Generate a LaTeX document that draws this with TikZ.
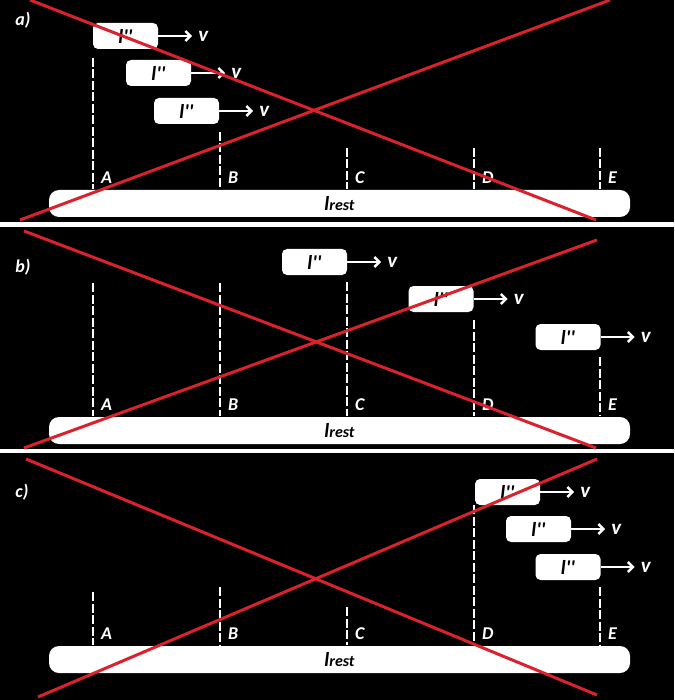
\documentclass[tikz,border=0pt]{standalone}
\usepackage{fontspec}
\setmainfont{Carlito}[Ligatures=TeXOff]
\usepackage{tikz}
\usetikzlibrary{arrows.meta, positioning}
\definecolor{strike}{RGB}{218,34,44}

\begin{document}
\begin{tikzpicture}[x=1pt,y=-1pt,>={Straight Barb[length=5pt,width=10pt]}]
	\tikzset{every node/.style={inner sep=0pt},
		frame/.style={fill=white, rounded corners=5pt, minimum width=65pt, minimum height=26pt, text=black, font=\fontsize{20}{20}\selectfont\bfseries\itshape},
		speed/.style={text=white, font=\fontsize{21}{21}\selectfont\bfseries\itshape},
		point/.style={text=white, anchor=west, font=\fontsize{18}{18}\selectfont\bfseries\itshape},
		part/.style={text=white, font=\fontsize{18}{18}\selectfont\bfseries\itshape},
		bar/.style={fill=white, rounded corners=10pt, minimum width=581pt, minimum height=27pt, text=black, font=\bfseries\itshape},
		guide/.style={white, line width=1.2pt, dash pattern=on 9pt off 2.5pt},
		vec/.style={->, white, line width=2.5pt, shorten >=6pt},
		cross/.style={strike, line width=3pt}}
	\useasboundingbox (0,0) rectangle (674,700);
	\fill[black] (0,0) rectangle (674,700);
	\fill[white] (0,222) rectangle (674,227);
	\fill[white] (0,449) rectangle (674,453);

	% a) first car at A
	\node[part] (pa) at (23,20) {a)};
	\node[bar] (resta) at (339.5,203.5) {{\fontsize{20}{20}\selectfont l}{\fontsize{16}{16}\selectfont rest}};
	\foreach \x/\t in {93/58, 220/132, 347/148, 474/148, 600/148}
		\draw[guide] (\x,\t) -- (\x,189);
	\foreach \x/\n in {93/A, 220/B, 347/C, 474/D, 600/E}
		\node[point] (a\n) at (\x+8,178) {\n};
	\node[frame] (a1) at (125.5,36) {l''};
	\node[frame] (a2) at (158.5,73) {l''};
	\node[frame] (a3) at (186.5,111) {l''};
	\node[speed, right=40pt of a1] (va1) {v};
	\node[speed, right=40pt of a2] (va2) {v};
	\node[speed, right=40pt of a3] (va3) {v};
	\path (a1) edge[vec] (va1)
		(a2) edge[vec] (va2)
		(a3) edge[vec] (va3);
	\draw[cross] (30,0) -- (596,220);
	\draw[cross] (20,220) -- (610,0);

	% b) cars spread out
	\begin{scope}[shift={(0,227)}]
	\node[part] (pb) at (23,40) {b)};
	\node[bar] (restb) at (339.5,203.5) {{\fontsize{20}{20}\selectfont l}{\fontsize{16}{16}\selectfont rest}};
	\foreach \x/\t in {93/56, 220/56, 347/55, 474/93, 600/130}
		\draw[guide] (\x,\t) -- (\x,189);
	\foreach \x/\n in {93/A, 220/B, 347/C, 474/D, 600/E}
		\node[point] (b\n) at (\x+8,178) {\n};
	\node[frame] (b1) at (314.5,35) {l''};
	\node[frame] (b2) at (441,72) {l''};
	\node[frame] (b3) at (568,110) {l''};
	\node[speed, right=40pt of b1] (vb1) {v};
	\node[speed, right=40pt of b2] (vb2) {v};
	\node[speed, right=40pt of b3] (vb3) {v};
	\path (b1) edge[vec] (vb1)
		(b2) edge[vec] (vb2)
		(b3) edge[vec] (vb3);
	\draw[cross] (24,4) -- (596,221);
	\draw[cross] (24,221) -- (597,13);
	\end{scope}

	% c) last car at E
	\begin{scope}[shift={(0,456)}]
	\node[part] (pc) at (22,36) {c)};
	\node[bar] (restc) at (339.5,203.5) {{\fontsize{20}{20}\selectfont l}{\fontsize{16}{16}\selectfont rest}};
	\foreach \x/\t in {93/136, 220/131, 347/151, 474/49, 600/131}
		\draw[guide] (\x,\t) -- (\x,189);
	\foreach \x/\n in {93/A, 220/B, 347/C, 474/D, 600/E}
		\node[point] (c\n) at (\x+8,178) {\n};
	\node[frame] (c1) at (507.5,36) {l''};
	\node[frame] (c2) at (538.5,73) {l''};
	\node[frame] (c3) at (568,111) {l''};
	\node[speed, right=40pt of c1] (vc1) {v};
	\node[speed, right=40pt of c2] (vc2) {v};
	\node[speed, right=40pt of c3] (vc3) {v};
	\path (c1) edge[vec] (vc1)
		(c2) edge[vec] (vc2)
		(c3) edge[vec] (vc3);
	\draw[cross] (26,3) -- (597,239);
	\draw[cross] (38,241) -- (597,3);
	\end{scope}
\end{tikzpicture}
\end{document}
